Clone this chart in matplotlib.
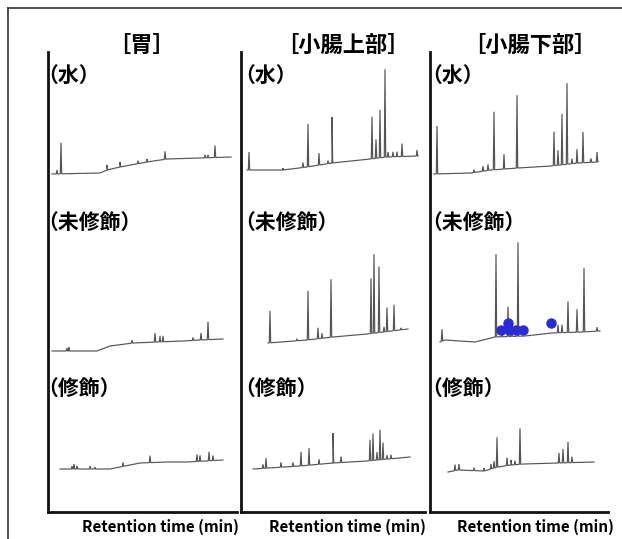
import numpy as np
import matplotlib
matplotlib.use("Agg")
import matplotlib.pyplot as plt
from matplotlib.lines import Line2D

plt.rcParams['font.family'] = ['Noto Sans CJK JP', 'DejaVu Sans']

# ---------------- data ----------------
columns = ["［胃］", "［小腸上部］", "［小腸下部］"]
conditions = ["（水）", "（未修飾）", "（修飾）"]
xlabel = "Retention time (min)"

# column 1: 胃
c1_water_bx = [4, 52, 59, 72, 99, 119, 152, 183]
c1_water_by = [338, 339, 342, 345, 350, 353, 354, 355]
c1_water_px = [9, 13, 59, 72, 90, 99, 117, 157, 160, 167]
c1_water_ph = [4, 31, 5, 5, 3, 3, 8, 3, 3, 12]

c1_unmod_bx = [4, 49, 62, 85, 109, 135, 152, 175]
c1_unmod_by = [161, 161, 166, 169, 170, 171, 172, 173]
c1_unmod_px = [19, 21, 84, 107, 112, 115, 145, 153, 160]
c1_unmod_ph = [3, 4, 3, 9, 6, 6, 3, 7, 18]

c1_mod_bx = [12, 62, 92, 119, 139, 175]
c1_mod_by = [43, 43, 49, 50, 50, 52]
c1_mod_px = [24, 26, 29, 42, 47, 75, 102, 149, 152, 161, 165]
c1_mod_ph = [3, 5, 3, 3, 2, 4, 7, 7, 6, 9, 5]

# column 2: 小腸上部
c2_water_bx = [6, 42, 66, 91, 129, 146, 177]
c2_water_by = [342, 342, 345, 349, 353, 355, 356]
c2_water_px = [8, 42, 62, 67, 78, 87, 91, 131, 135, 139, 144, 147, 152, 156, 161, 176]
c2_water_ph = [18, 2, 5, 43, 12, 3, 46, 42, 19, 48, 88, 5, 5, 5, 13, 6]

c2_unmod_bx = [27, 66, 92, 126, 167]
c2_unmod_by = [169, 172, 175, 178, 183]
c2_unmod_px = [29, 56, 67, 77, 81, 90, 130, 133, 138, 143, 146, 153, 160]
c2_unmod_ph = [32, 2, 49, 11, 5, 58, 55, 79, 66, 5, 24, 26, 2]

c2_mod_bx = [12, 59, 92, 126, 169]
c2_mod_by = [43, 46, 49, 51, 55]
c2_mod_px = [22, 25, 40, 52, 60, 68, 78, 92, 100, 129, 132, 136, 139, 142, 146, 150]
c2_mod_ph = [4, 10, 5, 4, 14, 17, 5, 30, 6, 21, 27, 8, 30, 17, 4, 4]

# column 3: 小腸下部
c3_water_bx = [4, 41, 61, 88, 121, 148, 168]
c3_water_by = [338, 339, 342, 344, 346, 349, 350]
c3_water_px = [7, 44, 53, 58, 64, 74, 87, 124, 128, 132, 137, 142, 147, 153, 161, 167]
c3_water_ph = [48, 3, 5, 6, 58, 15, 73, 34, 15, 51, 81, 5, 14, 31, 4, 10]

c3_unmod_bx = [10, 15, 45, 65, 95, 122, 152, 170]
c3_unmod_by = [170, 172, 170, 175, 176, 179, 180, 181]
c3_unmod_px = [12, 66, 72, 78, 82, 88, 128, 132, 138, 147, 154, 167]
c3_unmod_ph = [12, 83, 5, 30, 6, 94, 8, 8, 31, 23, 64, 4]

c3_mod_bx = [18, 28, 54, 68, 81, 94, 128, 164]
c3_mod_by = [40, 42, 41, 45, 47, 48, 49, 50]
c3_mod_px = [25, 29, 44, 54, 61, 64, 67, 77, 81, 85, 90, 129, 133, 138, 142]
c3_mod_ph = [6, 6, 3, 3, 5, 7, 30, 8, 5, 4, 36, 10, 14, 21, 6]

# marked compounds (blue dots) on 小腸下部 未修飾
dots_rt = [71, 78, 79, 86, 93, 121]
dots_sig = [182, 189, 182, 182, 182, 189]

traces = [
    [(c1_water_bx, c1_water_by, c1_water_px, c1_water_ph),
     (c1_unmod_bx, c1_unmod_by, c1_unmod_px, c1_unmod_ph),
     (c1_mod_bx, c1_mod_by, c1_mod_px, c1_mod_ph)],
    [(c2_water_bx, c2_water_by, c2_water_px, c2_water_ph),
     (c2_unmod_bx, c2_unmod_by, c2_unmod_px, c2_unmod_ph),
     (c2_mod_bx, c2_mod_by, c2_mod_px, c2_mod_ph)],
    [(c3_water_bx, c3_water_by, c3_water_px, c3_water_ph),
     (c3_unmod_bx, c3_unmod_by, c3_unmod_px, c3_unmod_ph),
     (c3_mod_bx, c3_mod_by, c3_mod_px, c3_mod_ph)],
]

# ---------------- layout (pixels) ----------------
W, H = 622, 539
fig = plt.figure(figsize=(W / 100, H / 100), dpi=100)
fig.patch.set_facecolor("white")

col_left = [48, 241, 430]
col_right = [237, 425, 608]
ax_top, ax_bot = 52, 512
title_x = [142, 343, 530]
label_x = [37, 234, 421]
label_y = [75, 222, 388]
xlabel_x = [160, 347, 535]


def fx(px):
    return px / W


def fy(py):
    return 1 - py / H


def build_trace(bx, by, px, ph, w=0.7):
    xs = list(bx)
    ys = list(by)
    for x, h in zip(px, ph):
        b = np.interp([x - w, x, x + w], bx, by)
        xs += [x - w, x, x + w]
        ys += [b[0], b[1] + h, b[2]]
    order = np.argsort(xs, kind="stable")
    return np.array(xs)[order], np.array(ys)[order]


for ci in range(3):
    l, r = col_left[ci], col_right[ci]
    ax = fig.add_axes([fx(l), fy(ax_bot), (r - l) / W, (ax_bot - ax_top) / H])
    ax.set_xlim(0, r - l)
    ax.set_ylim(0, ax_bot - ax_top)
    ax.patch.set_alpha(0)
    for s in ["top", "right"]:
        ax.spines[s].set_visible(False)
    for s in ["left", "bottom"]:
        ax.spines[s].set_linewidth(2.0)
        ax.spines[s].set_color("#111111")
    ax.set_xticks([])
    ax.set_yticks([])
    for (bx, by, px, ph) in traces[ci]:
        xs, ys = build_trace(bx, by, px, ph)
        ax.plot(xs, ys, color="#555555", lw=0.85, solid_joinstyle="miter")
    if ci == 2:
        ax.plot(dots_rt, dots_sig, "o", color="#2b2bd6", markersize=7.5,
                markeredgewidth=0, zorder=5)

    fig.text(fx(title_x[ci]), fy(45), columns[ci], ha="center", va="center",
             fontsize=16, fontweight="bold", color="black")
    for k in range(3):
        fig.text(fx(label_x[ci]), fy(label_y[k]), conditions[k], ha="left",
                 va="center", fontsize=15, fontweight="bold", color="black")
    fig.text(fx(xlabel_x[ci]), fy(527), xlabel, ha="center", va="center",
             fontsize=11, fontweight="bold", color="black")

# outer frame (left & top)
fig.add_artist(Line2D([fx(8), fx(622)], [fy(8), fy(8)], color="#333333", lw=1.2))
fig.add_artist(Line2D([fx(8), fx(8)], [fy(8), fy(539)], color="#333333", lw=1.2))

fig.savefig("out.png", dpi=100, facecolor="white")
